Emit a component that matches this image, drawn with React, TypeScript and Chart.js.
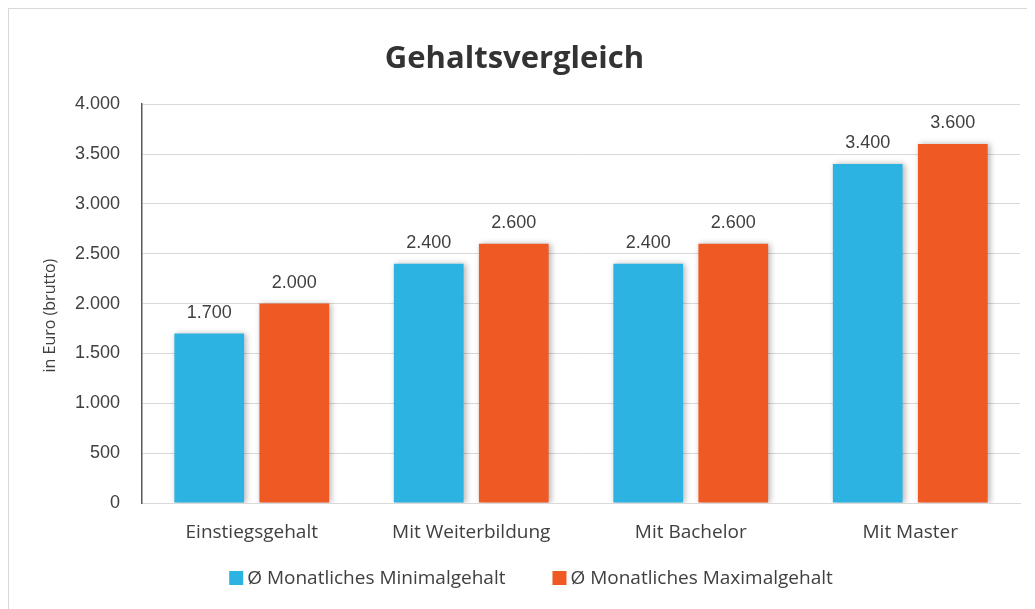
import React, { useEffect, useRef } from "react";
import { Chart, registerables } from "chart.js";

Chart.register(...registerables);

const categories = ["Einstiegsgehalt", "Mit Weiterbildung", "Mit Bachelor", "Mit Master"];
const minGehalt = [1700, 2400, 2400, 3400];
const maxGehalt = [2000, 2600, 2600, 3600];
const seriesNames = ["Ø Monatliches Minimalgehalt", "Ø Monatliches Maximalgehalt"];
const seriesColors = ["#2db3e2", "#ef5923"];
const chartTitle = "Gehaltsvergleich";
const yAxisTitle = "in Euro (brutto)";

const textColor = "#404040";
const fmt = (v: number) => v.toLocaleString("de-DE");

const shadowPlugin = {
  id: "barShadow",
  beforeDatasetsDraw(chart: any) {
    const ctx = chart.ctx;
    ctx.save();
    ctx.shadowColor = "rgba(0,0,0,0.30)";
    ctx.shadowBlur = 6;
    ctx.shadowOffsetX = 2;
    ctx.shadowOffsetY = 0;
  },
  afterDatasetsDraw(chart: any) {
    chart.ctx.restore();
  },
};

const labelPlugin = {
  id: "valueLabels",
  afterDraw(chart: any) {
    const ctx = chart.ctx;
    ctx.save();
    ctx.font = "18px 'Liberation Sans', Arial, sans-serif";
    ctx.fillStyle = textColor;
    ctx.textAlign = "center";
    ctx.textBaseline = "alphabetic";
    chart.data.datasets.forEach((ds: any, i: number) => {
      const meta = chart.getDatasetMeta(i);
      meta.data.forEach((bar: any, j: number) => {
        ctx.fillText(fmt(ds.data[j]), bar.x, bar.y - 16);
      });
    });

    // y axis title
    const area = chart.chartArea;
    ctx.save();
    ctx.font = "16px 'Open Sans', sans-serif";
    ctx.textAlign = "center";
    ctx.textBaseline = "middle";
    ctx.translate(41, (area.top + area.bottom) / 2 + 12);
    ctx.rotate(-Math.PI / 2);
    ctx.fillText(yAxisTitle, 0, 0);
    ctx.restore();

    // legend
    ctx.font = "19px 'Open Sans', sans-serif";
    ctx.textAlign = "left";
    ctx.textBaseline = "middle";
    const box = 14;
    const gapBox = 4;
    const gapItem = 47;
    const widths = chart.data.datasets.map((ds: any) => ctx.measureText(ds.label).width);
    const total =
      widths.reduce((a: number, w: number) => a + box + gapBox + w, 0) + gapItem * (widths.length - 1);
    let x = chart.width / 2 + 9 - total / 2;
    const y = chart.height - 31;
    chart.data.datasets.forEach((ds: any, i: number) => {
      ctx.fillStyle = ds.backgroundColor;
      ctx.fillRect(x, y - box / 2, box, box);
      ctx.fillStyle = textColor;
      ctx.fillText(ds.label, x + box + gapBox, y + 1);
      x += box + gapBox + widths[i] + gapItem;
    });
    ctx.restore();
  },
};

export default function App() {
  const ref = useRef<HTMLCanvasElement | null>(null);
  useEffect(() => {
    if (!ref.current) return;
    const chart = new Chart(ref.current, {
      type: "bar",
      data: {
        labels: categories,
        datasets: [
          { label: seriesNames[0], data: minGehalt, backgroundColor: seriesColors[0] },
          { label: seriesNames[1], data: maxGehalt, backgroundColor: seriesColors[1] },
        ],
      },
      options: {
        responsive: false,
        animation: false,
        maintainAspectRatio: false,
        layout: { padding: { left: 0, right: 15, top: 0, bottom: 49 } },
        datasets: { bar: { categoryPercentage: 0.775, barPercentage: 0.82 } } as any,
        plugins: {
          title: {
            display: true,
            text: chartTitle,
            color: "#333333",
            font: { family: "'Open Sans', sans-serif", size: 31, weight: "bold" },
            padding: { top: 32, bottom: 26 },
          },
          legend: { display: false },
          tooltip: { enabled: false },
        },
        scales: {
          x: {
            grid: { display: false, drawTicks: false },
            border: { color: "#d9d9d9" },
            ticks: {
              color: textColor,
              font: { family: "'Open Sans', sans-serif", size: 19 },
              padding: 18,
            },
            afterFit(scale: any) {
              scale.height = 57;
            },
          },
          y: {
            min: 0,
            max: 4000,
            ticks: {
              stepSize: 500,
              color: textColor,
              font: { family: "'Liberation Sans', Arial, sans-serif", size: 18 },
              padding: 22,
              callback: (v: any) => fmt(Number(v)),
            },
            grid: { color: "#d9d9d9", drawTicks: false },
            border: { color: "#595959", width: 1.5 },
            afterFit(scale: any) {
              scale.width = 133;
            },
          },
        },
      },
      plugins: [shadowPlugin, labelPlugin],
    });
    return () => chart.destroy();
  }, []);
  return (
    <div
      style={{
        width: 1027,
        height: 601,
        borderTop: "1px solid #d9d9d9",
        borderLeft: "1px solid #d9d9d9",
        boxSizing: "border-box",
        background: "#fff",
      }}
    >
      <canvas ref={ref} width={1026} height={600} style={{ display: "block" }} />
    </div>
  );
}
